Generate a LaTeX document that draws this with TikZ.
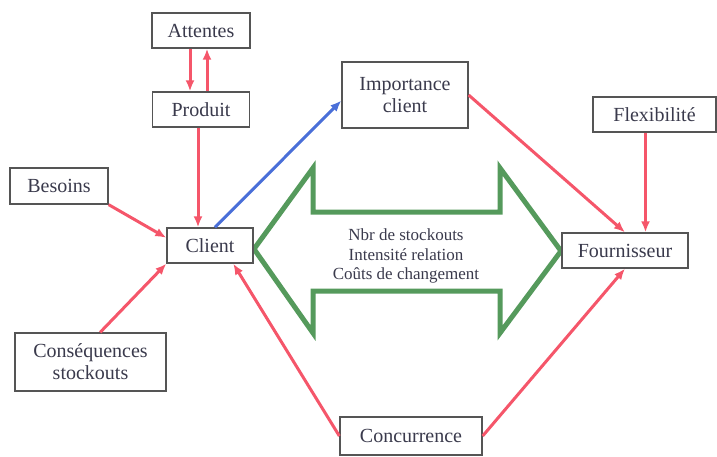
\documentclass[tikz,border=0pt]{standalone}
\usepackage{fontspec}
\setmainfont{Liberation Serif}
\usetikzlibrary{arrows.meta,positioning}

\definecolor{boxgray}{HTML}{555555}
\definecolor{txtgray}{HTML}{3A3A4C}
\definecolor{arrowred}{HTML}{F5566A}
\definecolor{arrowblue}{HTML}{4A6FD8}
\definecolor{arrowgreen}{HTML}{559A5C}

\begin{document}
\begin{tikzpicture}[x=1pt,y=-1pt,->,>={Latex[length=11pt,width=9pt]},line width=3pt,node distance=79pt,
  main node/.style={rectangle,draw=boxgray,line width=1.3pt,fill=white,text=txtgray,inner sep=2pt,align=center,font=\fontsize{20}{22}\selectfont},
  flux text/.style={align=center,text=txtgray,font=\fontsize{17}{19.5}\selectfont}]

  \useasboundingbox (0,0) rectangle (717,456);

  % big exchange arrow
  \draw[-,arrowgreen,line width=5pt] (254,249) -- (313,168) -- (313,212) -- (500,212) -- (500,168)
    -- (561,251) -- (500,333) -- (500,291) -- (313,291) -- (313,333) -- cycle;
  \node[flux text] (flux) at (406,256) {Nbr de stockouts\\Intensité relation\\Coûts de changement};

  \node[main node,minimum width=98pt,minimum height=35pt] (attentes) at (201,30.5) {Attentes};
  \node[main node,minimum width=97pt,minimum height=35pt] (produit) [below of=attentes] {Produit};
  \node[main node,minimum width=98pt,minimum height=36pt] (besoins) at (59,186) {Besoins};
  \node[main node,minimum width=86pt,minimum height=35pt] (client) at (210,245.5) {Client};
  \node[main node,minimum width=151pt,minimum height=58pt] (consequences) at (90.5,362) {Conséquences\\stockouts};
  \node[main node,minimum width=126pt,minimum height=66pt] (importance) at (405,95) {Importance\\client};
  \node[main node,minimum width=123pt,minimum height=35pt] (flexibilite) at (654.5,114.5) {Flexibilité};
  \node[main node,minimum width=126pt,minimum height=35pt] (fournisseur) at (625,250.5) {Fournisseur};
  \node[main node,minimum width=142pt,minimum height=38pt] (concurrence) at (411,436) {Concurrence};

  \path[arrowred]
    ([xshift=-11pt]attentes.south) edge ([xshift=-11pt]produit.north)
    ([xshift=6pt]produit.north) edge ([xshift=6pt]attentes.south)
    ([xshift=-3pt]produit.south) edge ([xshift=-3pt]produit.south |- client.north)
    (besoins.south east) edge (client.170)
    (consequences.72) edge (client.south west)
    (concurrence.west) edge (client.-38)
    (importance.east) edge (fournisseur.north)
    ([xshift=-9pt]flexibilite.south) edge ([xshift=-9pt]flexibilite.south |- fournisseur.north)
    (concurrence.east) edge (fournisseur.south);

  \path[arrowblue]
    ([xshift=5pt]client.north) edge (importance.185);
\end{tikzpicture}
\end{document}
